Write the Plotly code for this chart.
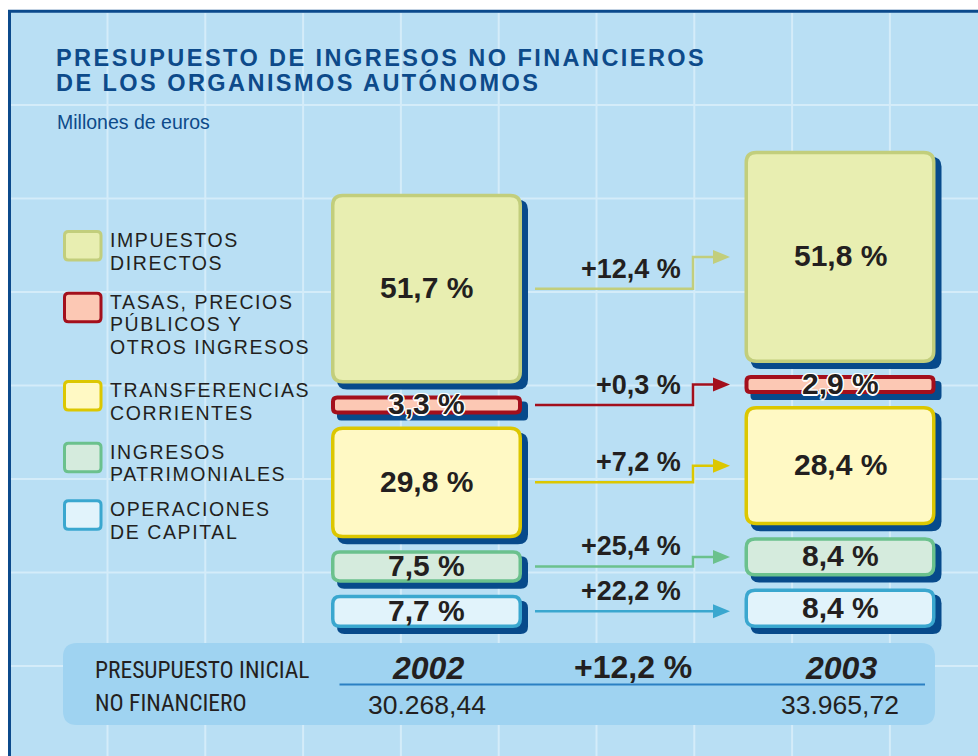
import plotly.graph_objects as go

# ------------------------------------------------------------------ data
categories = [
    "IMPUESTOS DIRECTOS",
    "TASAS, PRECIOS PÚBLICOS Y OTROS INGRESOS",
    "TRANSFERENCIAS CORRIENTES",
    "INGRESOS PATRIMONIALES",
    "OPERACIONES DE CAPITAL",
]
legend_lines = [
    ["IMPUESTOS", "DIRECTOS"],
    ["TASAS, PRECIOS", "PÚBLICOS Y", "OTROS INGRESOS"],
    ["TRANSFERENCIAS", "CORRIENTES"],
    ["INGRESOS", "PATRIMONIALES"],
    ["OPERACIONES", "DE CAPITAL"],
]
years = ["2002", "2003"]
share_2002 = [51.7, 3.3, 29.8, 7.5, 7.7]
share_2003 = [51.8, 2.9, 28.4, 8.4, 8.4]
growth_pct = [12.4, 0.3, 7.2, 25.4, 22.2]
totals = [30268.44, 33965.72]
total_growth = 12.2

# ------------------------------------------------------------------ styles
W, H = 978, 756
BG = "#b9dff4"
GRID = "#d4ecf9"
FRAME = "#0b4a8c"
TITLE_C = "#0d4a8a"
TEXT_C = "#231f20"
SHADOW = "#074a8b"
PANEL = "#9fd3f1"
PANEL_LINE = "#2b80c3"
fills = ["#e8eeb1", "#fcc8b4", "#fff9c4", "#d5ebdd", "#e1f3fb"]
borders = ["#c2ce7c", "#a30f1c", "#dcc700", "#6bc18d", "#3aa7cf"]
FONT = "Liberation Sans, Arial, Helvetica, sans-serif"
NARROW = "Roboto Condensed, Roboto, Open Sans, sans-serif"

# axis scales: x = year index, y = millions of euros (upwards)
XPX = 413.5          # pixels per year step
X_ORIGIN_PX = 426.5  # pixel position of first year column
MPP = 85.2           # millions of euros per pixel
BASE_PX = 628        # pixel row of zero (bottom of the stacks)
x_range = [-X_ORIGIN_PX / XPX, (W - X_ORIGIN_PX) / XPX]
y_range = [-(H - BASE_PX) * MPP, BASE_PX * MPP]

HALF_W = 95.5
PAD_PX = 5.9
MIN_PX = 19
GAP_PX = 12
SHADOW_OFF = 6


def dx(px):
    return px / XPX


def dy(px):
    return px * MPP


def fmt_pct(v, sign=False):
    s = f"{v:.1f}".replace(".", ",")
    return ("+" if sign else "") + s + " %"


def fmt_total(v):
    return f"{v:,.2f}".replace(",", "X").replace(".", ",").replace("X", ".")


def rr_path(x0, x1, y0, y1, rx, ry):
    return (f"M {x0+rx},{y0} L {x1-rx},{y0} Q {x1},{y0} {x1},{y0+ry} "
            f"L {x1},{y1-ry} Q {x1},{y1} {x1-rx},{y1} L {x0+rx},{y1} "
            f"Q {x0},{y1} {x0},{y1-ry} L {x0},{y0+ry} Q {x0},{y0} {x0+rx},{y0} Z")


def px_x(px):
    return px / W


def px_y(py):
    return 1 - py / H


shapes = []
annotations = []

# ------------------------------------------------------------------ background frame + grid
shapes.append(dict(type="rect", xref="paper", yref="paper",
                   x0=px_x(9.5), x1=1.2, y0=-0.2, y1=px_y(11.3),
                   fillcolor=BG, line=dict(color=FRAME, width=3)))
gx = 107.5
while gx < W:
    shapes.append(dict(type="line", xref="paper", yref="paper",
                       x0=px_x(gx), x1=px_x(gx), y0=0, y1=px_y(13),
                       line=dict(color=GRID, width=2)))
    gx += 97.8
gy = 105
while gy < H:
    shapes.append(dict(type="line", xref="paper", yref="paper",
                       x0=px_x(11), x1=1, y0=px_y(gy), y1=px_y(gy),
                       line=dict(color=GRID, width=2)))
    gy += 93.5

# ------------------------------------------------------------------ title
annotations.append(dict(xref="paper", yref="paper", x=px_x(53.5), y=px_y(58.5),
                        xanchor="left", yanchor="middle", showarrow=False,
                        text='<span style="letter-spacing:2.45px">PRESUPUESTO DE INGRESOS NO FINANCIEROS</span>',
                        font=dict(family=FONT, size=23.5, color=TITLE_C, weight="bold")))
annotations.append(dict(xref="paper", yref="paper", x=px_x(53.5), y=px_y(83),
                        xanchor="left", yanchor="middle", showarrow=False,
                        text='<span style="letter-spacing:2.45px">DE LOS ORGANISMOS AUTÓNOMOS</span>',
                        font=dict(family=FONT, size=23.5, color=TITLE_C, weight="bold")))
annotations.append(dict(xref="paper", yref="paper", x=px_x(55), y=px_y(122.5),
                        xanchor="left", yanchor="middle", showarrow=False,
                        text="Millones de euros",
                        font=dict(family=FONT, size=19.5, color=TITLE_C)))

# ------------------------------------------------------------------ legend (layout)
legend_first_line_px = [240, 301.7, 390, 451.7, 509.3]
LEG_LINE = 22.7
for i, lines in enumerate(legend_lines):
    top = legend_first_line_px[i] - 10
    shapes.append(dict(type="path", xref="paper", yref="paper",
                       path=rr_path(px_x(64.5), px_x(101), px_y(top + 30), px_y(top + 1.5),
                                    px_x(4), 4 / H),
                       fillcolor=fills[i], line=dict(color=borders[i], width=3)))
    for k, ln in enumerate(lines):
        annotations.append(dict(xref="paper", yref="paper", x=px_x(108),
                                y=px_y(legend_first_line_px[i] + k * LEG_LINE),
                                xanchor="left", yanchor="middle", showarrow=False,
                                text=f'<span style="letter-spacing:1.6px">{ln}</span>',
                                font=dict(family=FONT, size=19.5, color=TEXT_C)))

# ------------------------------------------------------------------ bottom panel
shapes.append(dict(type="path", xref="paper", yref="paper",
                   path=rr_path(px_x(63), px_x(935), px_y(725), px_y(643), 14 / W, 14 / H),
                   fillcolor=PANEL, line=dict(width=0)))
shapes.append(dict(type="line", xref="paper", yref="paper",
                   x0=px_x(339.5), x1=px_x(925), y0=px_y(684.5), y1=px_y(684.5),
                   line=dict(color=PANEL_LINE, width=2)))
for txt, yy in [("PRESUPUESTO INICIAL", 670), ("NO FINANCIERO", 703)]:
    annotations.append(dict(xref="paper", yref="paper", x=px_x(93), y=px_y(yy),
                            xanchor="left", yanchor="middle", showarrow=False,
                            text=f'<span style="font-stretch:condensed">{txt}</span>',
                            font=dict(family=NARROW, size=23.5, color=TEXT_C, weight=380)))
for j, yr in enumerate(years):
    annotations.append(dict(xref="x", yref="paper", x=j + dx(1), y=px_y(668),
                            xanchor="center", yanchor="middle", showarrow=False,
                            text=yr,
                            font=dict(family=FONT, size=32, color=TEXT_C, weight="bold", style="italic")))
    annotations.append(dict(xref="x", yref="paper", x=j, y=px_y(705),
                            xanchor="center", yanchor="middle", showarrow=False,
                            text=fmt_total(totals[j]),
                            font=dict(family=FONT, size=26.5, color=TEXT_C)))
annotations.append(dict(xref="x", yref="paper", x=0.5, y=px_y(667),
                        xanchor="center", yanchor="middle", showarrow=False,
                        text=fmt_pct(total_growth, sign=True),
                        font=dict(family=FONT, size=32, color=TEXT_C, weight="bold")))

# ------------------------------------------------------------------ boxes (data coordinates)
boxes = {}
for j, shares in enumerate([share_2002, share_2003]):
    cursor = 0.0
    for i in reversed(range(len(categories))):
        amount = shares[i] / 100 * totals[j]
        h = max(amount + dy(PAD_PX), dy(MIN_PX))
        boxes[(j, i)] = (j - dx(HALF_W), j + dx(HALF_W), cursor, cursor + h)
        cursor += h + dy(GAP_PX)

for (j, i), (x0, x1, y0, y1) in boxes.items():
    h_px = (y1 - y0) / MPP
    r = min(10, 0.22 * h_px)
    shapes.append(dict(type="path", xref="x", yref="y",
                       path=rr_path(x0 + dx(SHADOW_OFF), x1 + dx(SHADOW_OFF),
                                    y0 - dy(SHADOW_OFF), y1 - dy(SHADOW_OFF), dx(r), dy(r)),
                       fillcolor=SHADOW, line=dict(width=0)))
for (j, i), (x0, x1, y0, y1) in boxes.items():
    h_px = (y1 - y0) / MPP
    r = min(10, 0.22 * h_px)
    lw = 4 if h_px < 25 else 3.5
    ins = lw / 2
    shapes.append(dict(type="path", xref="x", yref="y",
                       path=rr_path(x0 + dx(ins), x1 - dx(ins), y0 + dy(ins), y1 - dy(ins),
                                    dx(r), dy(r)),
                       fillcolor=fills[i], line=dict(color=borders[i], width=lw)))
    share = [share_2002, share_2003][j][i]
    thin = h_px < 25
    font = dict(family=FONT, size=30, color=TEXT_C, weight="bold")
    if thin:
        font["shadow"] = ("white 1.5px 0px 0px, white -1.5px 0px 0px, white 0px 1.5px 0px, "
                          "white 0px -1.5px 0px, white 1px 1px 0px, white -1px -1px 0px, "
                          "white 1px -1px 0px, white -1px 1px 0px")
    annotations.append(dict(xref="x", yref="y", x=j, y=(y0 + y1) / 2 + dy(1),
                            xanchor="center", yanchor="middle", showarrow=False,
                            text=fmt_pct(share), font=font))

# ------------------------------------------------------------------ growth arrows
ARROW_START = dx(535 - X_ORIGIN_PX)
ARROW_ELBOW = dx(693 - X_ORIGIN_PX)
ARROW_TIP = dx(730 - X_ORIGIN_PX)
HEAD_L = dx(17)
HEAD_H = dy(7)
for i in range(len(categories)):
    s = boxes[(0, i)]
    t = boxes[(1, i)]
    ys = (s[2] + s[3]) / 2
    yt = (t[2] + t[3]) / 2
    if abs(ys - yt) < dy(6):
        yt = ys
    base = ARROW_TIP - HEAD_L
    if yt == ys:
        p = f"M {ARROW_START},{ys} L {base},{ys}"
    else:
        p = f"M {ARROW_START},{ys} L {ARROW_ELBOW},{ys} L {ARROW_ELBOW},{yt} L {base},{yt}"
    shapes.append(dict(type="path", xref="x", yref="y", path=p,
                       line=dict(color=borders[i], width=2.5)))
    shapes.append(dict(type="path", xref="x", yref="y",
                       path=f"M {base},{yt + HEAD_H} L {ARROW_TIP},{yt} L {base},{yt - HEAD_H} Z",
                       fillcolor=borders[i], line=dict(width=0)))
    annotations.append(dict(xref="x", yref="y", x=dx(683 - X_ORIGIN_PX), y=ys + dy(20),
                            xanchor="right", yanchor="middle", showarrow=False,
                            text=fmt_pct(growth_pct[i], sign=True),
                            font=dict(family=FONT, size=27, color=TEXT_C, weight="bold")))

# ------------------------------------------------------------------ figure
fig = go.Figure()
fig.add_trace(go.Scatter(
    x=[0, 1], y=[0, 0], mode="markers", marker=dict(opacity=0),
    hoverinfo="skip", showlegend=False))
fig.update_layout(
    width=W, height=H,
    margin=dict(l=0, r=0, t=0, b=0),
    paper_bgcolor="white", plot_bgcolor="rgba(0,0,0,0)",
    xaxis=dict(range=x_range, visible=False, fixedrange=True),
    yaxis=dict(range=y_range, visible=False, fixedrange=True),
    shapes=shapes, annotations=annotations, showlegend=False,
)
fig.write_html("out.html", config={"displayModeBar": False},
               post_script="document.body.style.margin='0px';document.body.style.padding='0px';")
